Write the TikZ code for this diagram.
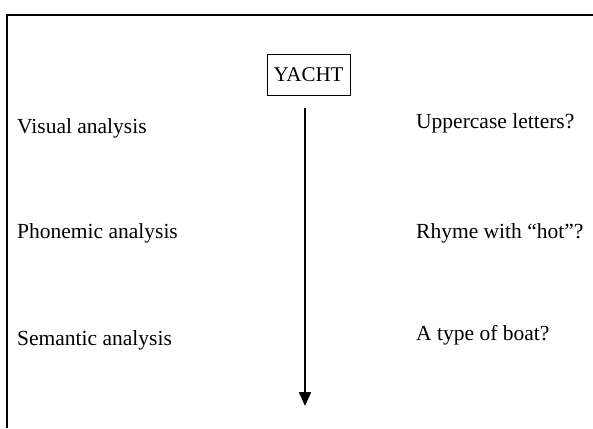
\documentclass[tikz,border=0pt]{standalone}
\usepackage{fontspec}
\setmainfont{Liberation Serif}
\usetikzlibrary{arrows.meta}
\begin{document}
\begin{tikzpicture}[x=1pt,y=-1pt,
  lbl/.style={anchor=base west,inner sep=0pt,font=\fontsize{21.5}{26}\selectfont},
  wordbox/.style={draw,line width=0.8pt,inner xsep=4pt,minimum width=83pt,minimum height=41pt,font=\fontsize{21}{25}\selectfont},
  frameline/.style={line width=1.1pt},
  flow/.style={line width=2.2pt,-{Triangle[length=14pt,width=12pt]}}]
\useasboundingbox (0,0) rectangle (593,428);
\draw[frameline] (7,428) -- (7,15) -- (593,15);
\node[wordbox] (yacht) at (308.5,74.5) {YACHT};
\coordinate (top) at (305,108);
\coordinate (bottom) at (305,406);
\draw[flow] (top) -- (bottom);
\node[lbl] (v) at (17,133) {Visual analysis};
\node[lbl] (p) at (17,238) {Phonemic analysis};
\node[lbl] (s) at (17,345) {Semantic analysis};
\node[lbl] (u) at (416,128) {Uppercase letters?};
\node[lbl] (r) at (416,238) {Rhyme with “hot”?};
\node[lbl] (b) at (416,340) {A type of boat?};
\end{tikzpicture}
\end{document}
